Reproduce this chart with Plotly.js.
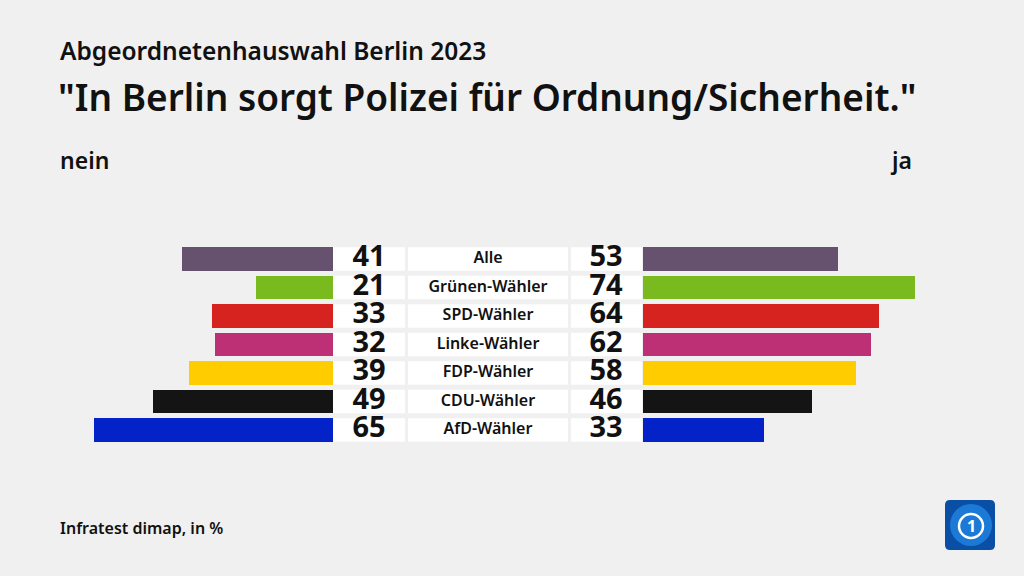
<!DOCTYPE html>
<html>
<head>
<meta charset="utf-8">
<script src="https://cdn.plot.ly/plotly-3.0.1.min.js"></script>
<style>html,body{margin:0;padding:0;background:#f0f0f0;}#chart{width:1024px;height:576px;}</style>
</head>
<body>
<div id="chart"></div>
<script>
const categories = ["Alle", "Grünen-Wähler", "SPD-Wähler", "Linke-Wähler", "FDP-Wähler", "CDU-Wähler", "AfD-Wähler"];
const nein = [41, 21, 33, 32, 39, 49, 65];
const ja = [53, 74, 64, 62, 58, 46, 33];
const colors = ["#66526f", "#79bb1f", "#d62320", "#bd3075", "#ffcc00", "#141414", "#0323c8"];

const W = 1024, H = 576;
const FONT = "Noto Sans";
const pxPerUnit = 3.68;
const leftEdge = 333, rightEdge = 643;
const rowTop = 244.75, rowBottom = 444.25;
const idx = categories.map((c, i) => i);

const traces = [
  {type: "bar", orientation: "h", y: idx, x: nein, xaxis: "x", yaxis: "y",
   marker: {color: colors}, width: 0.83, hoverinfo: "skip", showlegend: false},
  {type: "bar", orientation: "h", y: idx, x: ja, xaxis: "x2", yaxis: "y",
   marker: {color: colors}, width: 0.83, hoverinfo: "skip", showlegend: false},
  {type: "scatter", mode: "text", xaxis: "x3", yaxis: "y", y: idx, x: idx.map(() => 369),
   text: nein.map(String), textfont: {family: FONT, size: 29, color: "#111", weight: 700},
   hoverinfo: "skip", showlegend: false},
  {type: "scatter", mode: "text", xaxis: "x3", yaxis: "y", y: idx, x: idx.map(() => 488),
   text: categories, textfont: {family: FONT, size: 16, color: "#111", weight: 600},
   hoverinfo: "skip", showlegend: false},
  {type: "scatter", mode: "text", xaxis: "x3", yaxis: "y", y: idx, x: idx.map(() => 606),
   text: ja.map(String), textfont: {family: FONT, size: 29, color: "#111", weight: 700},
   hoverinfo: "skip", showlegend: false}
];

const shapes = [];
idx.forEach(i => {
  [[333, 405], [408, 568], [571, 642]].forEach(([a, b]) => {
    shapes.push({type: "rect", xref: "x3", yref: "y", x0: a, x1: b, y0: i - 0.415, y1: i + 0.415,
      fillcolor: "#ffffff", line: {width: 0}, layer: "below"});
  });
});
// logo
const px = v => v / W, py = v => 1 - v / H;
shapes.push({type: "path", xref: "paper", yref: "paper",
  path: `M ${px(950)} ${py(500)} L ${px(990)} ${py(500)} Q ${px(995)} ${py(500)} ${px(995)} ${py(505)} L ${px(995)} ${py(545)} Q ${px(995)} ${py(550)} ${px(990)} ${py(550)} L ${px(950)} ${py(550)} Q ${px(945)} ${py(550)} ${px(945)} ${py(545)} L ${px(945)} ${py(505)} Q ${px(945)} ${py(500)} ${px(950)} ${py(500)} Z`,
  fillcolor: "#0a4fa6", line: {width: 0}});
shapes.push({type: "circle", xref: "paper", yref: "paper", x0: px(950), x1: px(992), y0: py(546), y1: py(504),
  fillcolor: "#1c7ad6", line: {width: 0}});
shapes.push({type: "circle", xref: "paper", yref: "paper", x0: px(959), x1: px(983), y0: py(538), y1: py(514),
  fillcolor: "rgba(0,0,0,0)", line: {width: 2.5, color: "#ffffff"}});

const annotations = [
  {text: "Abgeordnetenhauswahl Berlin 2023", x: px(58), y: py(50), xref: "paper", yref: "paper",
   xanchor: "left", yanchor: "middle", showarrow: false, font: {family: FONT, size: 24.5, color: "#111", weight: 600}},
  {text: "nein", x: px(58), y: py(160), xref: "paper", yref: "paper",
   xanchor: "left", yanchor: "middle", showarrow: false, font: {family: FONT, size: 23, color: "#111", weight: 600}},
  {text: "ja", x: px(914), y: py(160), xref: "paper", yref: "paper",
   xanchor: "right", yanchor: "middle", showarrow: false, font: {family: FONT, size: 23, color: "#111", weight: 600}},
  {text: "Infratest dimap, in %", x: px(58), y: py(528), xref: "paper", yref: "paper",
   xanchor: "left", yanchor: "middle", showarrow: false, font: {family: FONT, size: 16, color: "#111", weight: 600}},
  {text: "1", x: px(971), y: py(526), xref: "paper", yref: "paper",
   xanchor: "center", yanchor: "middle", showarrow: false, font: {family: FONT, size: 16, color: "#ffffff", weight: 700}}
];

const axisBase = {showgrid: false, zeroline: false, showticklabels: false, ticks: "", showline: false, fixedrange: true};
const layout = {
  width: W, height: H,
  margin: {l: 0, r: 0, t: 0, b: 0, pad: 0},
  paper_bgcolor: "#f0f0f0", plot_bgcolor: "rgba(0,0,0,0)",
  title: {text: "\"In Berlin sorgt Polizei für Ordnung/Sicherheit.\"", x: px(58), xanchor: "left",
    xref: "paper", y: py(98), yref: "paper", yanchor: "middle",
    font: {family: FONT, size: 37, color: "#111", weight: 600}},
  xaxis: Object.assign({}, axisBase, {domain: [0, leftEdge / W], range: [leftEdge / pxPerUnit, 0]}),
  xaxis2: Object.assign({}, axisBase, {domain: [rightEdge / W, 1], range: [0, (W - rightEdge) / pxPerUnit]}),
  xaxis3: Object.assign({}, axisBase, {domain: [leftEdge / W, rightEdge / W], range: [leftEdge, rightEdge]}),
  yaxis: Object.assign({}, axisBase, {domain: [1 - rowBottom / H, 1 - rowTop / H], range: [6.5, -0.5]}),
  shapes: shapes,
  annotations: annotations,
  bargap: 0
};
Plotly.newPlot("chart", traces, layout, {displayModeBar: false, staticPlot: true});
</script>
</body>
</html>
